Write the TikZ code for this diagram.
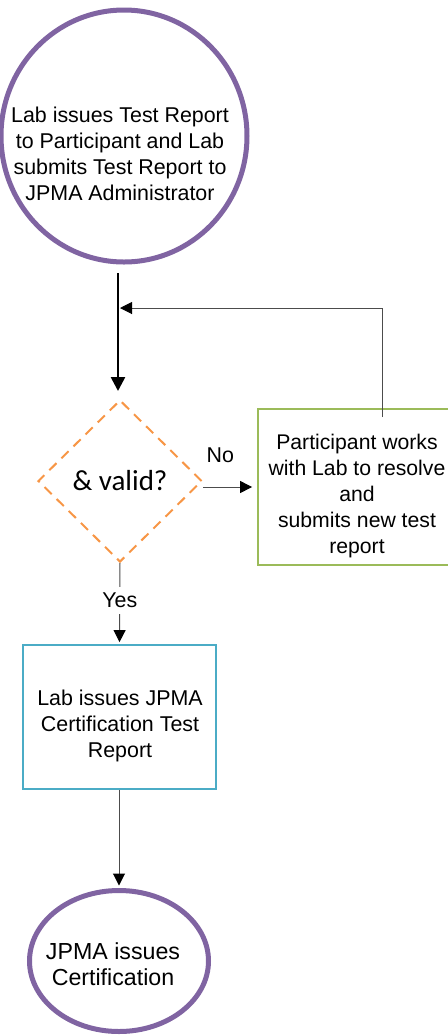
\documentclass[tikz,border=0pt]{standalone}
\usepackage{fontspec}
\setmainfont{Liberation Sans}
\newfontfamily\calibrifont{Carlito}
\usetikzlibrary{arrows.meta, shapes.geometric}

\definecolor{termpurple}{HTML}{8064A2}
\definecolor{decorange}{HTML}{F79646}
\definecolor{stepgreen}{HTML}{9BBB59}
\definecolor{stepblue}{HTML}{4BACC6}

\begin{document}
\begin{tikzpicture}[
        x=0.5pt, y=-0.5pt,
        every node/.style={font=\fontsize{10.7}{13}\selectfont},
        terminal/.style={ellipse, draw=termpurple, line width=2.5pt, inner sep=0pt},
        decision/.style={diamond, draw=decorange, dash pattern=on 5pt off 3.5pt, line width=1pt, inner sep=0pt, aspect=1, font=\calibrifont\fontsize{14.5}{17}\selectfont},
        process/.style={rectangle, line width=0.9pt, inner sep=0pt},
        bodytext/.style={align=center},
        mainflow/.style={-{Triangle[length=7pt, width=7pt]}, line width=1.3pt},
        flow/.style={-{Triangle[length=6pt, width=6pt, color=black]}, line width=0.5pt, draw=black!70},
        edgelabel/.style={inner sep=3pt},
    ]
        \useasboundingbox (0,0) rectangle (448,1035);
        \clip (0,0) rectangle (448,1035);

        \node[terminal, minimum width=123pt, minimum height=126pt] (report) at (124,136) {};
        \node[bodytext] (reporttext) at (120,154) {Lab issues Test Report\\to Participant and Lab\\submits Test Report to\\JPMA Administrator};

        \node[decision, minimum width=82pt, minimum height=81pt] (check) at (120,481) {\& valid?};

        \node[process, draw=stepgreen, minimum width=99pt, minimum height=78pt] (resolve) at (357,487) {};
        \node[bodytext, font=\fontsize{10.6}{13}\selectfont] (resolvetext) at (357,496) {Participant works\\with Lab to resolve\\and\\submits new test\\report};

        \node[process, draw=stepblue, minimum width=96.5pt, minimum height=72pt] (certreport) at (119.5,717) {};
        \node[bodytext] (certreporttext) at (120,726) {Lab issues JPMA\\Certification Test\\Report};

        \node[terminal, minimum width=89.5pt, minimum height=70.5pt] (certify) at (119,961) {};
        \node[bodytext, font=\fontsize{11.6}{13}\selectfont] (certifytext) at (113,964) {JPMA issues\\Certification};

        \coordinate (reportout) at (118,273);
        \coordinate (loopin) at (118,308);
        \coordinate (loopup) at (382,417);

        \draw[mainflow, shorten >=4pt] (reportout) -- (reportout |- check.north);
        \draw[flow, shorten >=1pt] (loopup) |- (loopin);
        \draw[flow, shorten >=2.5pt] (check.east |- resolve.west) -- node[edgelabel, pos=0.32, yshift=16pt] {No} (resolve.west);
        \draw[flow, shorten >=1pt] (check.south) -- node[edgelabel, fill=white, pos=0.46] {Yes} (certreport.north);
        \draw[flow, shorten >=1.25pt] (certreport.south -| certify.north) -- (certify.north);
    \end{tikzpicture}
\end{document}
